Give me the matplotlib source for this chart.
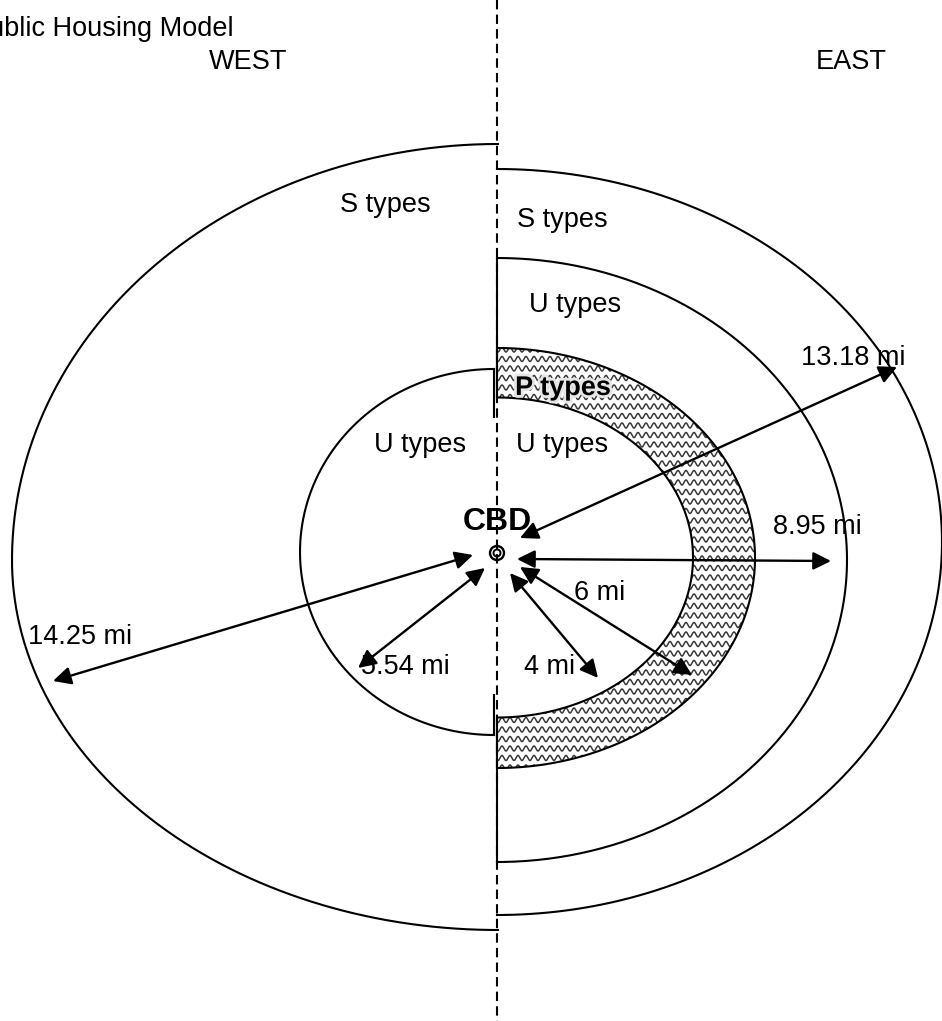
import numpy as np
import matplotlib
matplotlib.use("Agg")
import matplotlib.pyplot as plt
from matplotlib.patches import Polygon, Circle
import matplotlib.patheffects as pe

plt.rcParams['font.family'] = ['Liberation Sans', 'DejaVu Sans']

W, H = 942, 1021
AXIS_X = 497
CBD = (497, 553)

# distance labels and where the arrows run (pixel coords)
dist_labels = ["13.18 mi", "8.95 mi", "6 mi", "4 mi", "5.54 mi", "14.25 mi"]
arrow_from = [(520, 538), (517, 559), (520, 567), (510, 573), (485, 568), (473, 555)]
arrow_to = [(897, 367), (831, 561), (692, 675), (598, 678), (358, 668), (53, 681)]
dist_pos = [(853, 358), (817, 527), (600, 593), (550, 667), (405, 667), (80, 637)]

zone_labels = ["S types", "S types", "U types", "U types", "U types"]
zone_pos = [(385, 205), (562, 220), (575, 305), (420, 445), (562, 445)]

# rings: (center y, half width, half height)
east_outer = (542, 445, 373)
east_mid = (560, 350, 302)
p_outer = (558, 258, 210)
p_inner = (557.5, 196, 160)
west_inner = (552, 194, 183)
west_outer = (560, 486, 416, 370)  # cy, a, b top, b bottom


def east_arc(cy, a, b, n=300):
    t = np.linspace(-np.pi / 2, np.pi / 2, n)
    return AXIS_X + a * np.cos(t), cy + b * np.sin(t)


fig = plt.figure(figsize=(W / 100, H / 100), dpi=100)
ax = fig.add_axes([0, 0, 1, 1])
ax.set_xlim(0, W)
ax.set_ylim(H, 0)
ax.axis('off')

lw = 1.5

# P band with wavy fill
xo, yo = east_arc(*p_outer)
xi, yi = east_arc(*p_inner)
band = Polygon(np.column_stack([np.r_[xo, xi[::-1]], np.r_[yo, yi[::-1]]]),
               closed=True, facecolor='white', edgecolor='none', zorder=2)
ax.add_patch(band)
wx = np.linspace(AXIS_X, AXIS_X + 270, 1500)
for y0 in np.arange(340, 780, 9.5):
    wl, = ax.plot(wx, y0 + 2.5 * np.sin(wx / 8.0 * 2 * np.pi), color='#3a3a3a', lw=1.1, zorder=2)
    wl.set_clip_path(band)
ax.add_patch(Polygon(band.get_xy(), closed=True, fill=False, edgecolor='black', lw=lw, zorder=3))

# east arcs
for ring in (east_outer, east_mid):
    x, y = east_arc(*ring)
    ax.plot(x, y, color='black', lw=lw, zorder=3)
ax.plot([AXIS_X, AXIS_X], [east_mid[0] - east_mid[2], p_inner[0] - p_inner[2]], color='black', lw=lw, zorder=3)
ax.plot([AXIS_X, AXIS_X], [p_inner[0] + p_inner[2], east_mid[0] + east_mid[2]], color='black', lw=lw, zorder=3)

# west outer (two quarters)
cy, a, bt, bb = west_outer
s = np.linspace(0, np.pi / 2, 200)
ax.plot(np.r_[AXIS_X + 1 - a * np.sin(s), AXIS_X + 1 - a * np.cos(s)],
        np.r_[cy - bt * np.cos(s), cy + bb * np.sin(s)], color='black', lw=lw, zorder=3)

# west inner
cy, a, b = west_inner
t = np.linspace(np.pi / 2, 3 * np.pi / 2, 300)
wx0 = 494
ax.plot(wx0 + a * np.cos(t), cy - b * np.sin(t), color='black', lw=lw, zorder=3)
ax.plot([wx0, wx0], [cy - b, cy - b + 48], color='black', lw=lw, zorder=3)
ax.plot([wx0, wx0], [cy + b - 40, cy + b], color='black', lw=lw, zorder=3)

# dividing dashed line
ax.plot([AXIS_X, AXIS_X], [0, H], color='black', lw=1.5, dashes=(4.5, 2.5), zorder=4)

# CBD symbol
ax.add_patch(Circle(CBD, 7, fill=False, edgecolor='black', lw=1.7, zorder=5))
ax.add_patch(Circle(CBD, 3.5, fill=False, edgecolor='black', lw=1.4, zorder=5))
ax.text(CBD[0], 522, "CBD", fontsize=23, fontweight='bold', ha='center', va='center', zorder=6)

# arrows
for p0, p1 in zip(arrow_from, arrow_to):
    ax.annotate("", xy=p1, xytext=p0,
                arrowprops=dict(arrowstyle='<|-|>', color='black', lw=1.7,
                                mutation_scale=27, shrinkA=0, shrinkB=0), zorder=5)

fs = 19.5
for lab, (x, y) in zip(dist_labels, dist_pos):
    ax.text(x, y, lab, fontsize=fs, ha='center', va='center', zorder=6)
for lab, (x, y) in zip(zone_labels, zone_pos):
    ax.text(x, y, lab, fontsize=fs, ha='center', va='center', zorder=6)
ax.text(563, 388, "P types", fontsize=fs, fontweight='bold', ha='center', va='center', zorder=6,
        path_effects=[pe.withStroke(linewidth=4, foreground='#e6e6e6')])

# title is cut at the left edge in the original as well
ax.text(234, 36, "Public Housing Model", fontsize=fs, ha='right', va='baseline')
ax.text(248, 62, "WEST", fontsize=fs, ha='center', va='center')
ax.text(851, 62, "EAST", fontsize=fs, ha='center', va='center')

fig.savefig("out.png", dpi=100)
